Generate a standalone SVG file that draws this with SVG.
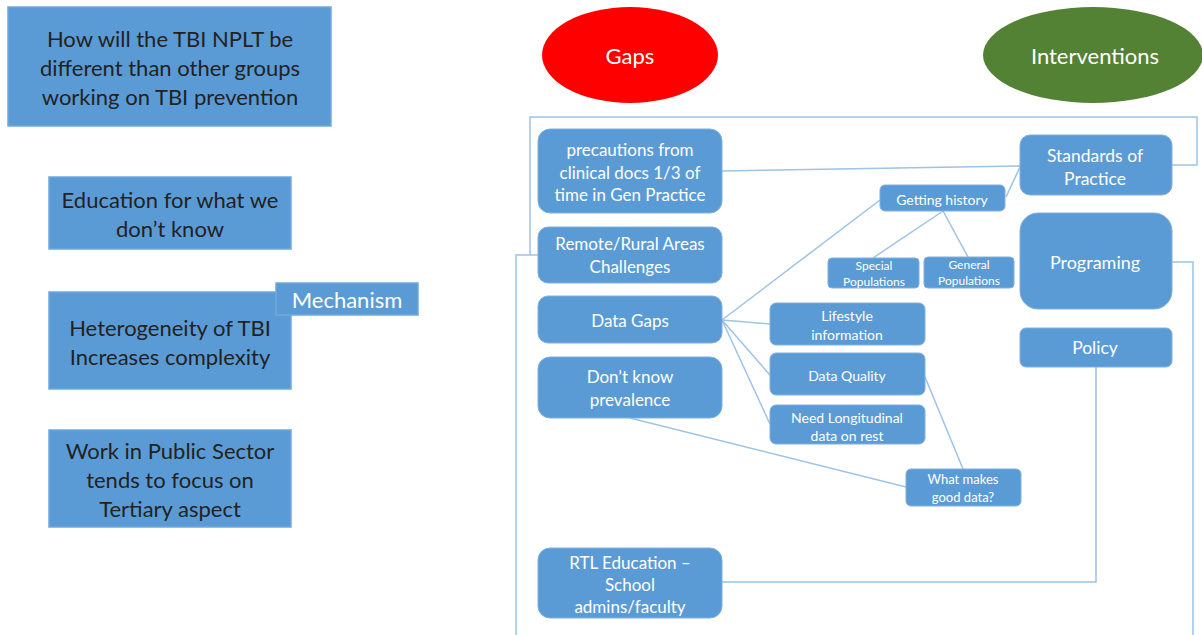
<svg xmlns="http://www.w3.org/2000/svg" width="1202" height="635" viewBox="0 0 1202 635">
<style>
.sq{fill:#5b9bd5;stroke:#6fa8dc;stroke-width:1.5}
.rb{fill:#5b9bd5;stroke:#7fb0df;stroke-width:1}
.dk{font-family:Lato,"Open Sans",sans-serif;fill:#222222;font-size:22px;text-anchor:middle;dominant-baseline:central}
.wt{font-family:Lato,"Open Sans",sans-serif;fill:#ffffff;text-anchor:middle;dominant-baseline:central}
.g{font-size:17px}
.s{font-size:14px}
.xs{font-size:12px}
.ln{fill:none;stroke:#9dc3e6;stroke-width:1.5}
</style>
<rect width="1202" height="635" fill="#ffffff"/>
<g id="connectors">
<polyline class="ln" points="530,255 530,117 1197,117 1197,165 1172,165"/>
<polyline class="ln" points="538,255 516,255 516,635"/>
<polyline class="ln" points="1172,262 1193,262 1193,635"/>
<polyline class="ln" points="1096,367 1096,582 722,582"/>
<line class="ln" x1="722" y1="171" x2="1020" y2="166"/>
<line class="ln" x1="1020" y1="167" x2="1006" y2="197"/>
<line class="ln" x1="880" y1="200" x2="722" y2="320"/>
<line class="ln" x1="943" y1="211" x2="873" y2="258"/>
<line class="ln" x1="943" y1="211" x2="968" y2="257"/>
<line class="ln" x1="722" y1="320" x2="770" y2="324"/>
<line class="ln" x1="722" y1="320" x2="770" y2="375"/>
<line class="ln" x1="722" y1="320" x2="770" y2="424"/>
<line class="ln" x1="630" y1="418" x2="906" y2="487"/>
<line class="ln" x1="925" y1="377" x2="963" y2="469"/>
</g>
<g id="q1"><rect class="sq" x="8" y="7" width="323" height="119"/>
<text class="dk" x="170" y="38">How will the TBI NPLT be</text>
<text class="dk" x="170" y="67">different than other groups</text>
<text class="dk" x="170" y="96">working on TBI prevention</text></g>
<g id="q2"><rect class="sq" x="49" y="177" width="242" height="72"/>
<text class="dk" x="170" y="199">Education for what we</text>
<text class="dk" x="170" y="228">don’t know</text></g>
<g id="q3"><rect class="sq" x="49" y="292" width="242" height="97"/>
<text class="dk" x="170" y="327">Heterogeneity of TBI</text>
<text class="dk" x="170" y="356">Increases complexity</text></g>
<g id="mech"><rect class="sq" x="276" y="283" width="142" height="32"/>
<text class="wt" x="347" y="299" style="font-size:22px">Mechanism</text></g>
<g id="q4"><rect class="sq" x="49" y="430" width="242" height="97"/>
<text class="dk" x="170" y="450">Work in Public Sector</text>
<text class="dk" x="170" y="479">tends to focus on</text>
<text class="dk" x="170" y="508">Tertiary aspect</text></g>
<g id="gaps"><ellipse cx="630" cy="55" rx="88" ry="48" fill="#ff0000"/>
<text class="wt" x="630" y="55" style="font-size:22px">Gaps</text></g>
<g id="interventions"><ellipse cx="1093" cy="55" rx="110" ry="48" fill="#548235"/>
<text class="wt" x="1095" y="55" style="font-size:22px">Interventions</text></g>
<g id="precautions"><rect class="rb" x="538" y="129" width="184" height="84" rx="12"/>
<text class="wt g" x="630" y="149">precautions from</text>
<text class="wt g" x="630" y="172">clinical docs 1/3 of</text>
<text class="wt g" x="630" y="194">time in Gen Practice</text></g>
<g id="remote"><rect class="rb" x="538" y="227" width="184" height="56" rx="10"/>
<text class="wt g" x="630" y="243">Remote/Rural Areas</text>
<text class="wt g" x="630" y="266">Challenges</text></g>
<g id="datagaps"><rect class="rb" x="538" y="296" width="184" height="47" rx="10"/>
<text class="wt g" x="630" y="320">Data Gaps</text></g>
<g id="prevalence"><rect class="rb" x="538" y="357" width="184" height="61" rx="12"/>
<text class="wt g" x="630" y="376">Don’t know</text>
<text class="wt g" x="630" y="399">prevalence</text></g>
<g id="rtl"><rect class="rb" x="538" y="548" width="184" height="70" rx="12"/>
<text class="wt g" x="630" y="562">RTL Education –</text>
<text class="wt g" x="630" y="584">School</text>
<text class="wt g" x="630" y="606">admins/faculty</text></g>
<g id="history"><rect class="rb" x="880" y="185" width="125" height="26" rx="5"/>
<text class="wt s" x="942" y="199">Getting history</text></g>
<g id="special"><rect class="rb" x="828" y="258" width="91" height="30" rx="4"/>
<text class="wt xs" x="874" y="265">Special</text>
<text class="wt xs" x="874" y="281">Populations</text></g>
<g id="general"><rect class="rb" x="924" y="257" width="90" height="31" rx="4"/>
<text class="wt xs" x="969" y="264">General</text>
<text class="wt xs" x="969" y="280">Populations</text></g>
<g id="lifestyle"><rect class="rb" x="770" y="303" width="155" height="42" rx="6"/>
<text class="wt s" x="847" y="315">Lifestyle</text>
<text class="wt s" x="847" y="334">information</text></g>
<g id="quality"><rect class="rb" x="770" y="353" width="155" height="42" rx="6"/>
<text class="wt s" x="847" y="375">Data Quality</text></g>
<g id="longitudinal"><rect class="rb" x="770" y="405" width="155" height="39" rx="6"/>
<text class="wt s" x="847" y="417">Need Longitudinal</text>
<text class="wt s" x="847" y="435">data on rest</text></g>
<g id="gooddata"><rect class="rb" x="906" y="469" width="115" height="37" rx="5"/>
<text class="wt" x="963" y="479" style="font-size:13px">What makes</text>
<text class="wt" x="963" y="497" style="font-size:13px">good data?</text></g>
<g id="standards"><rect class="rb" x="1020" y="135" width="152" height="60" rx="10"/>
<text class="wt" x="1095" y="155" style="font-size:17.5px">Standards of</text>
<text class="wt" x="1095" y="178" style="font-size:17.5px">Practice</text></g>
<g id="programing"><rect class="rb" x="1020" y="213" width="152" height="96" rx="18"/>
<text class="wt" x="1095" y="262" style="font-size:18px">Programing</text></g>
<g id="policy"><rect class="rb" x="1020" y="328" width="152" height="39" rx="6"/>
<text class="wt" x="1095" y="347" style="font-size:17.5px">Policy</text></g>
</svg>
